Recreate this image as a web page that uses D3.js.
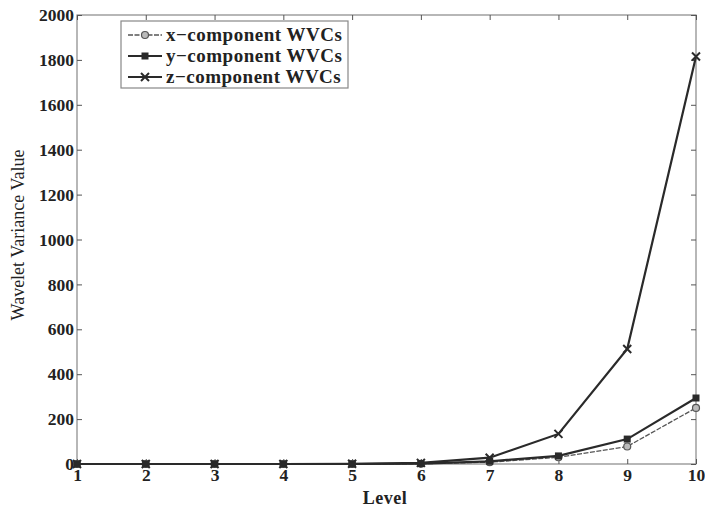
<!DOCTYPE html>
<html>
<head>
<meta charset="utf-8">
<script src="https://cdn.jsdelivr.net/npm/d3@7"></script>
<style>
  html, body { margin: 0; padding: 0; background: #fff; }
  svg { display: block; }
  text { font-family: "Liberation Serif", "DejaVu Serif", serif; font-weight: bold; fill: #222; }
</style>
</head>
<body>
<svg id="chart" width="705" height="508"></svg>
<script>
// Wavelet variance per decomposition level for each field component
const levels = [1, 2, 3, 4, 5, 6, 7, 8, 9, 10];
const xComponent = [0, 0, 0, 0, 0, 1, 8, 30, 78, 250];
const yComponent = [0, 0, 0, 0, 0, 2, 12, 36, 111, 294];
const zComponent = [0, 0, 0, 0, 1, 5, 28, 134, 512, 1815];
const seriesNames = ["x\u2212component WVCs", "y\u2212component WVCs", "z\u2212component WVCs"];
const yTicks = [0, 200, 400, 600, 800, 1000, 1200, 1400, 1600, 1800, 2000];

const svg = d3.select("#chart");
const margin = { left: 77, right: 9, top: 15, bottom: 44 };
const W = 705, H = 508;

const x = d3.scaleLinear().domain([1, 10]).range([margin.left, W - margin.right]);
const y = d3.scaleLinear().domain([0, 2000]).range([H - margin.bottom, margin.top]);

// frame
svg.append("rect")
  .attr("x", x(1)).attr("y", y(2000))
  .attr("width", x(10) - x(1)).attr("height", y(0) - y(2000))
  .attr("fill", "none").attr("stroke", "#888").attr("stroke-width", 1.2);

// axes with inward ticks
const xAxis = svg.append("g").attr("transform", `translate(0,${y(0)})`)
  .call(d3.axisBottom(x).tickValues(levels).tickFormat(d3.format("d")).tickSize(-5).tickPadding(5));
const xAxisTop = svg.append("g").attr("transform", `translate(0,${y(2000)})`)
  .call(d3.axisTop(x).tickValues(levels).tickFormat("").tickSize(-5));
const yAxis = svg.append("g").attr("transform", `translate(${x(1)},0)`)
  .call(d3.axisLeft(y).tickValues(yTicks).tickFormat(d3.format("d")).tickSize(-5).tickPadding(3));
const yAxisRight = svg.append("g").attr("transform", `translate(${x(10)},0)`)
  .call(d3.axisRight(y).tickValues(yTicks).tickFormat("").tickSize(-5));

[xAxis, xAxisTop, yAxis, yAxisRight].forEach(g => {
  g.select(".domain").remove();
  g.selectAll(".tick line").attr("stroke", "#555");
  g.selectAll(".tick text").style("font-size", "17.5px").attr("fill", "#222");
});

// axis titles
svg.append("text")
  .attr("x", 385).attr("y", 504)
  .attr("text-anchor", "middle").style("font-size", "18px")
  .style("letter-spacing", "0.5px")
  .text("Level");
svg.append("text")
  .attr("transform", "translate(24,235) rotate(-90)")
  .attr("text-anchor", "middle").style("font-size", "18px").style("font-weight", "normal")
  .text("Wavelet Variance Value");

const line = d3.line().x((d, i) => x(levels[i])).y(d => y(d));

const series = [
  { values: xComponent, color: "#555", width: 1.3, dash: "5,1.5", marker: "circle" },
  { values: yComponent, color: "#2a2a2a", width: 2.2, dash: null, marker: "square" },
  { values: zComponent, color: "#2a2a2a", width: 2.2, dash: null, marker: "cross" }
];

function drawMarker(g, type, cx, cy, color) {
  if (type === "circle") {
    g.append("circle").attr("cx", cx).attr("cy", cy).attr("r", 3.5)
      .attr("fill", "#bbb").attr("stroke", color).attr("stroke-width", 1.2);
  } else if (type === "square") {
    g.append("rect").attr("x", cx - 3.5).attr("y", cy - 3.5).attr("width", 7).attr("height", 7)
      .attr("fill", color);
  } else {
    const s = 4;
    g.append("path").attr("d", `M${cx - s},${cy - s}L${cx + s},${cy + s}M${cx - s},${cy + s}L${cx + s},${cy - s}`)
      .attr("stroke", color).attr("stroke-width", 2);
  }
}

series.forEach(s => {
  const g = svg.append("g");
  g.append("path").datum(s.values).attr("d", line)
    .attr("fill", "none").attr("stroke", s.color).attr("stroke-width", s.width)
    .attr("stroke-dasharray", s.dash);
  s.values.forEach((v, i) => drawMarker(g, s.marker, x(levels[i]), y(v), s.color));
});

// legend
const legend = svg.append("g").attr("transform", "translate(121,21)");
legend.append("rect").attr("width", 227).attr("height", 67)
  .attr("fill", "#fff").attr("stroke", "#888").attr("stroke-width", 1.2);
series.forEach((s, i) => {
  const ly = 14 + i * 21;
  legend.append("line").attr("x1", 7).attr("x2", 41).attr("y1", ly).attr("y2", ly)
    .attr("stroke", s.color).attr("stroke-width", s.width).attr("stroke-dasharray", s.dash);
  drawMarker(legend, s.marker, 24, ly, s.color);
  legend.append("text").attr("x", 45).attr("y", ly + 6).style("font-size", "19px")
    .style("letter-spacing", "0.5px")
    .text(seriesNames[i]);
});
</script>
</body>
</html>
